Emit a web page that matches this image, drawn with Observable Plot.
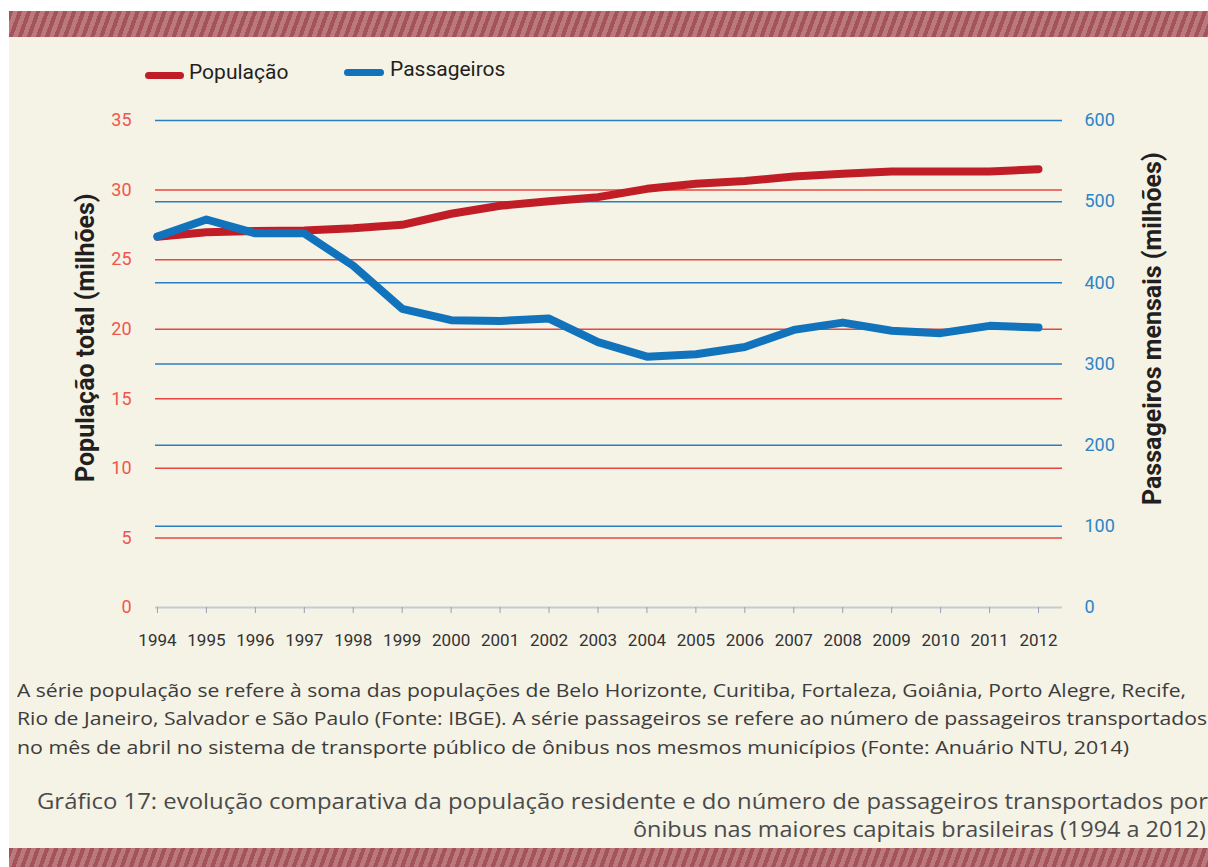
<!DOCTYPE html>
<html><head><meta charset="utf-8">
<script src="https://cdn.jsdelivr.net/npm/d3@7"></script>
<script src="https://cdn.jsdelivr.net/npm/@observablehq/plot@0.6"></script>
<style>
html,body{margin:0;padding:0;}
body{width:1208px;height:867px;background:#fff;position:relative;overflow:hidden;font-family:Roboto,sans-serif;}
.bg{position:absolute;left:9px;top:37px;width:1199px;height:811px;background:#f5f2e6;}
.stripe{position:absolute;left:9px;width:1199px;background:repeating-linear-gradient(110deg,#a4535b 0 4px,#ba7a7d 4px 8.5px);}
#chart{position:absolute;left:0;top:0;}
.leg{position:absolute;height:7px;border-radius:4px;}
.legtxt{position:absolute;font-size:21px;color:#231f20;white-space:nowrap;line-height:1;}
.ytitle{position:absolute;font-weight:bold;font-size:25px;color:#231f20;white-space:nowrap;line-height:1;transform-origin:0 0;}
.fit{position:absolute;white-space:nowrap;line-height:1;transform-origin:0 0;font-family:"Open Sans",sans-serif;}
.cap{font-size:18px;color:#3c3c3c;}
.ttl{font-size:21px;color:#4a4a4a;}
</style></head>
<body>
<div class="stripe" style="top:11px;height:26px;"></div>
<div class="bg"></div>
<div class="stripe" style="top:848px;height:19px;"></div>
<div id="chart"></div>
<div class="leg" style="left:145px;top:72px;width:39px;background:#c01d27;"></div>
<div class="legtxt" style="left:189px;top:62px;">População</div>
<div class="leg" style="left:344px;top:69px;width:40px;background:#1173bb;"></div>
<div class="legtxt" style="left:390px;top:59px;">Passageiros</div>
<div class="ytitle" id="ylt">População total (milhões)</div>
<div class="ytitle" id="yrt">Passageiros mensais (milhões)</div>
<div class="fit cap" data-x="17" data-w="1169" data-b="696">A série população se refere à soma das populações de Belo Horizonte, Curitiba, Fortaleza, Goiânia, Porto Alegre, Recife,</div>
<div class="fit cap" data-x="17" data-w="1190" data-b="724">Rio de Janeiro, Salvador e São Paulo (Fonte: IBGE). A série passageiros se refere ao número de passageiros transportados</div>
<div class="fit cap" data-x="17" data-w="1112" data-b="753">no mês de abril no sistema de transporte público de ônibus nos mesmos municípios (Fonte: Anuário NTU, 2014)</div>
<div class="fit ttl" data-x="37" data-w="1171" data-b="808">Gráfico 17: evolução comparativa da população residente e do número de passageiros transportados por</div>
<div class="fit ttl" data-x="633" data-w="573" data-b="836">ônibus nas maiores capitais brasileiras (1994 a 2012)</div>
<script>
const years = [1994,1995,1996,1997,1998,1999,2000,2001,2002,2003,2004,2005,2006,2007,2008,2009,2010,2011,2012];
const populacao = [26.65,26.97,27.05,27.1,27.26,27.5,28.3,28.87,29.2,29.49,30.09,30.45,30.65,30.98,31.17,31.33,31.33,31.33,31.5];
const passageiros = [457,478,461,461,421,368,354,353,356,327,309,312,321,342,351,341,338,347,345];
const leftTicks = [0,5,10,15,20,25,30,35];
const rightTicks = [0,100,200,300,400,500,600];
const redGrid = [5,10,15,20,25,30];
const blueGrid = [100,200,300,400,500,600];

const leftMax = 35, rightMax = 600;
const toLeft = v => v * leftMax / rightMax;
const data = years.map((y,i) => ({year:y, pop:populacao[i], pas:passageiros[i]}));

const chart = Plot.plot({
  width:1208, height:660,
  marginTop:120, marginBottom:53, marginLeft:155, marginRight:146,
  style:{background:"transparent", fontFamily:"Roboto, sans-serif", overflow:"visible"},
  x:{domain:[1993.96,2012.49], axis:null},
  y:{domain:[0,35], axis:null},
  marks:[
    Plot.ruleY(redGrid, {stroke:"#e8463f", strokeWidth:1.5}),
    Plot.ruleY(blueGrid.map(toLeft), {stroke:"#2a7fc2", strokeWidth:1.5}),
    Plot.ruleY([0], {stroke:"#c3ccd4", strokeWidth:2}),
    Plot.axisX({ticks:years, tickFormat:d=>String(d), tickSize:6, tickPadding:20, stroke:"#98a2aa", fill:"#333", fontSize:17, label:null}),
    Plot.axisY({anchor:"left", ticks:leftTicks, tickFormat:d=>String(d), tickSize:0, tickPadding:24, fill:"#f0564d", fontSize:18, label:null}),
    Plot.axisY({anchor:"right", ticks:rightTicks.map(toLeft), tickFormat:d=>String(Math.round(d*rightMax/leftMax)), tickSize:0, tickPadding:22, fill:"#2b85c8", fontSize:18, label:null}),
    Plot.line(data, {x:"year", y:"pop", stroke:"#c01d27", strokeWidth:8, strokeLinecap:"round", strokeLinejoin:"round"}),
    Plot.line(data, {x:"year", y:d=>toLeft(d.pas), stroke:"#1173bb", strokeWidth:8, strokeLinecap:"round", strokeLinejoin:"round"})
  ]
});
document.getElementById("chart").appendChild(chart);

function place() {
  const l = document.getElementById("ylt");
  const lw = l.getBoundingClientRect().width, lh = l.getBoundingClientRect().height;
  l.style.left = (85 - lh/2) + "px";
  l.style.top = (338 + lw/2) + "px";
  l.style.transform = "rotate(-90deg)";
  const r = document.getElementById("yrt");
  const rw = r.getBoundingClientRect().width, rh = r.getBoundingClientRect().height;
  r.style.left = (1152 - rh/2) + "px";
  r.style.top = (329 + rw/2) + "px";
  r.style.transform = "rotate(-90deg)";
  document.querySelectorAll(".fit").forEach(el => {
    const w = el.getBoundingClientRect().width;
    const fs = parseFloat(getComputedStyle(el).fontSize);
    const target = +el.dataset.w;
    el.style.left = el.dataset.x + "px";
    el.style.top = (+el.dataset.b - fs*0.82) + "px";
    el.style.transform = "scaleX(" + (target / w) + ")";
  });
}
place();
</script>
</body></html>
